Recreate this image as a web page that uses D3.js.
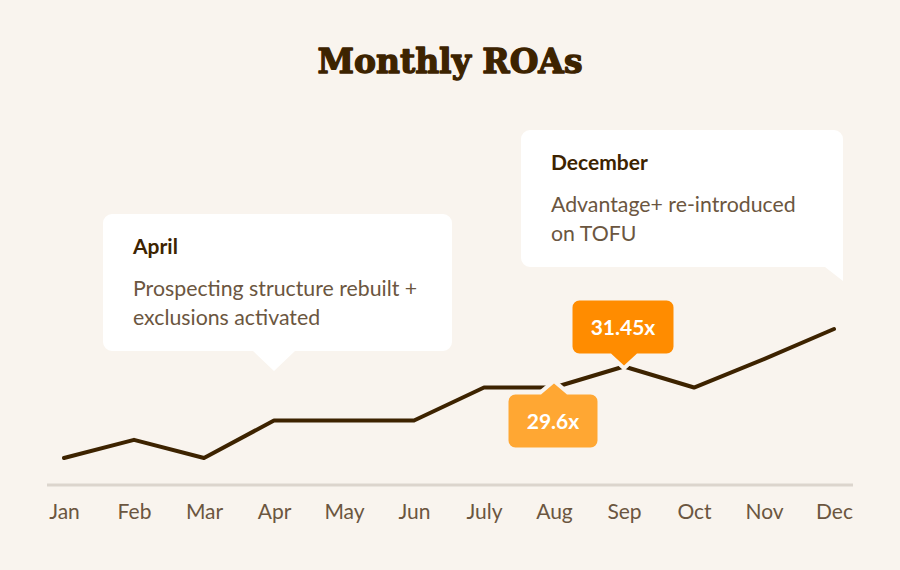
<!DOCTYPE html>
<html>
<head>
<meta charset="utf-8">
<script src="https://cdn.jsdelivr.net/npm/d3@7"></script>
<style>
  body { margin: 0; background: #f9f4ee; }
  svg { display: block; }
</style>
</head>
<body>
<div id="chart"></div>
<script>
// ── Data ──────────────────────────────────────────────────────────────────────
const months = ["Jan", "Feb", "Mar", "Apr", "May", "Jun", "July", "Aug", "Sep", "Oct", "Nov", "Dec"];
const roas   = [23.4, 25.0, 23.4, 26.7, 26.7, 26.7, 29.6, 29.6, 31.45, 29.6, 32.1, 34.75];

const noteMonths = ["Apr", "Dec"];
const noteTitles = ["April", "December"];
const noteLines  = [
  ["Prospecting structure rebuilt +", "exclusions activated"],
  ["Advantage+ re-introduced", "on TOFU"],
];

const tagMonths = ["Aug", "Sep"];

// ── Setup ─────────────────────────────────────────────────────────────────────
const W = 900, H = 570;
const BG = "#f9f4ee", INK = "#3d2300", MUTED = "#6b5640";

const svg = d3.select("#chart").append("svg")
  .attr("width", W).attr("height", H)
  .style("background", BG);

const x = d3.scalePoint().domain(months).range([64, 834]);
const y = d3.scaleLinear().domain([23.4, 34.75]).range([458, 329]);
const axisY = 485;

svg.append("text")
  .attr("x", W / 2).attr("y", 73)
  .attr("text-anchor", "middle")
  .attr("textLength", 265).attr("lengthAdjust", "spacingAndGlyphs")
  .style("font-family", "'DejaVu Serif', serif")
  .style("font-weight", 700)
  .style("font-size", "33px")
  .style("fill", INK)
  .style("stroke", INK)
  .style("stroke-width", 1.3)
  .style("stroke-linejoin", "round")
  .text("Monthly ROAs");

// ── Axis ──────────────────────────────────────────────────────────────────────
svg.append("line")
  .attr("x1", x.range()[0] - 17).attr("x2", x.range()[1] + 19)
  .attr("y1", axisY).attr("y2", axisY)
  .attr("stroke", "#dcd5cd").attr("stroke-width", 3);

const gx = svg.append("g")
  .attr("transform", `translate(0,${axisY})`)
  .call(d3.axisBottom(x).tickSize(0));
gx.select(".domain").remove();
gx.selectAll("text")
  .attr("y", 34).attr("dy", 0)
  .style("font-family", "Lato, sans-serif")
  .style("font-size", "21px")
  .style("fill", MUTED);

// ── Line ──────────────────────────────────────────────────────────────────────
const pts = months.map((m, i) => [x(m), y(roas[i])]);

svg.append("path")
  .attr("d", d3.line()(pts))
  .attr("fill", "none")
  .attr("stroke", INK)
  .attr("stroke-width", 4)
  .attr("stroke-linejoin", "round")
  .attr("stroke-linecap", "round");

// rounded rect with a pointer; tip = [x, y]
function bubble(x0, y0, w, h, r, tip, side, half) {
  const p = d3.path();
  const x1 = x0 + w, y1 = y0 + h;
  p.moveTo(x0 + r, y0);
  if (side === "top") { p.lineTo(tip[0] - half, y0); p.lineTo(tip[0], tip[1]); p.lineTo(tip[0] + half, y0); }
  p.lineTo(x1 - r, y0); p.arcTo(x1, y0, x1, y0 + r, r);
  if (side === "corner") { p.lineTo(x1, tip[1]); p.lineTo(x1 - half, y1); }
  else { p.lineTo(x1, y1 - r); p.arcTo(x1, y1, x1 - r, y1, r); }
  if (side === "bottom") { p.lineTo(tip[0] + half, y1); p.lineTo(tip[0], tip[1]); p.lineTo(tip[0] - half, y1); }
  p.lineTo(x0 + r, y1); p.arcTo(x0, y1, x0, y1 - r, r);
  p.lineTo(x0, y0 + r); p.arcTo(x0, y0, x0 + r, y0, r);
  p.closePath();
  return p.toString();
}

// ── Value tags ────────────────────────────────────────────────────────────────
const tagStyle = {
  Aug: { fill: "#ffa733", w: 89, side: "top" },
  Sep: { fill: "#ff8c00", w: 101, side: "bottom" },
};

tagMonths.forEach(m => {
  const i = months.indexOf(m);
  const px = x(m), py = y(roas[i]);
  const s = tagStyle[m];
  const h = 53;
  let tip, y0;
  if (s.side === "bottom") { tip = [px, py - 1]; y0 = tip[1] - 12 - h; }
  else { tip = [px, py - 4]; y0 = tip[1] + 11; }
  const x0 = px - s.w / 2 - 1;
  const g = svg.append("g");
  g.append("path")
    .attr("d", bubble(x0, y0, s.w, h, 7, tip, s.side, 13))
    .attr("fill", s.fill)
    .attr("stroke", BG).attr("stroke-width", 8)
    .attr("stroke-linejoin", "round")
    .attr("paint-order", "stroke");
  g.append("text")
    .attr("x", x0 + s.w / 2).attr("y", y0 + 34)
    .attr("text-anchor", "middle")
    .style("font-family", "Lato, sans-serif")
    .style("font-weight", 700)
    .style("font-size", "21px")
    .style("fill", "#fff")
    .text(roas[i] + "x");
});

// ── Notes ─────────────────────────────────────────────────────────────────────
const noteBox = {
  Apr: { x0: 103, y0: 214, w: 349, side: "bottom" },
  Dec: { x0: 521, y0: 130, w: 322, side: "corner" },
};

noteMonths.forEach((m, k) => {
  const b = noteBox[m];
  const h = 137;
  const tip = b.side === "bottom" ? [x(m), b.y0 + h + 20] : [b.x0 + b.w, b.y0 + h + 14];
  const g = svg.append("g");
  g.append("path")
    .attr("d", bubble(b.x0, b.y0, b.w, h, 9, tip, b.side, b.side === "bottom" ? 21 : 18))
    .attr("fill", "#fff");
  g.append("text")
    .attr("x", b.x0 + 30).attr("y", b.y0 + 40)
    .style("font-family", "Lato, sans-serif")
    .style("font-weight", 700)
    .style("font-size", "21px")
    .style("fill", INK)
    .text(noteTitles[k]);
  g.append("text")
    .attr("x", b.x0 + 30).attr("y", b.y0 + 82)
    .style("font-family", "Lato, sans-serif")
    .style("font-size", "21.3px")
    .style("fill", MUTED)
    .selectAll("tspan").data(noteLines[k]).join("tspan")
    .attr("x", b.x0 + 30)
    .attr("dy", (d, j) => j ? 29 : 0)
    .text(d => d);
});
</script>
</body>
</html>
